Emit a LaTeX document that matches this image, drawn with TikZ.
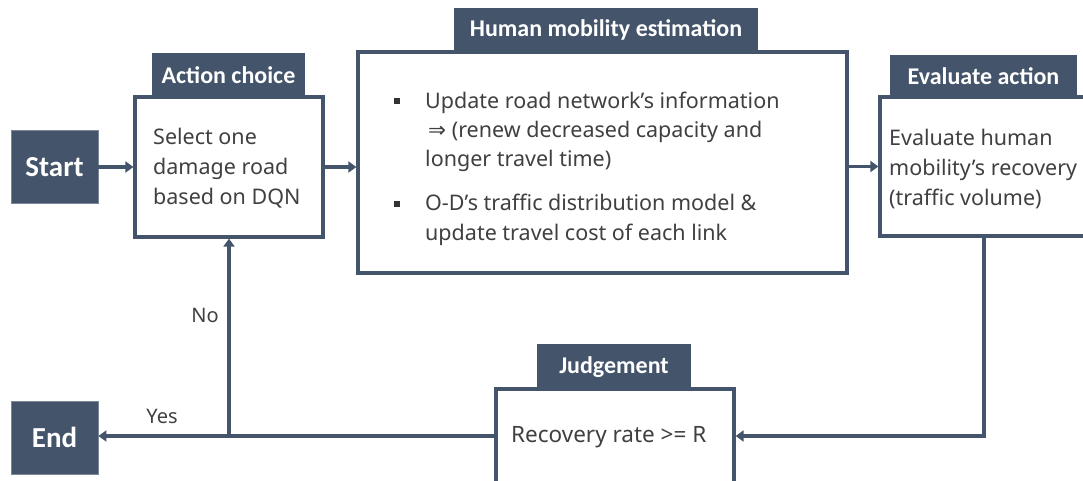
\documentclass[tikz,border=0pt]{standalone}
\usepackage{fontspec}
\setmainfont{Noto Sans}
\newfontfamily\headfont{Carlito}
\newfontfamily\symfont{DejaVu Sans}
\usetikzlibrary{arrows.meta}
\definecolor{slate}{RGB}{68,84,106}
\definecolor{ink}{RGB}{64,64,64}
\begin{document}
\begin{tikzpicture}[x=1pt,y=-1pt,
  panel/.style={draw=slate, line width=3.3pt, fill=white, rectangle, inner sep=0pt},
  tab/.style={fill=slate, text=white, rectangle, inner sep=0pt,
    font=\headfont\bfseries\fontsize{24pt}{24pt}\selectfont},
  term/.style={fill=slate, draw=slate!70!white, line width=0.8pt, text=white, rectangle, inner sep=0pt,
    minimum width=87pt, minimum height=73pt,
    font=\headfont\bfseries\fontsize{29pt}{29pt}\selectfont},
  body/.style={text=ink, align=left, inner sep=0pt, anchor=west,
    font=\fontsize{21.5pt}{30pt}\selectfont},
  lbl/.style={text=ink, inner sep=0pt, font=\fontsize{20pt}{24pt}\selectfont},
  bullet/.style={fill=ink!80!black, rectangle, inner sep=0pt, minimum size=6.5pt},
  conn/.style={draw=slate, line width=3.3pt, -{Triangle[length=8pt,width=11pt]}}]
\useasboundingbox (0,0) rectangle (1083,481);

% header tabs (drawn first so the panel borders sit on their lower edge)
\node[tab, minimum width=153pt, minimum height=44pt] (acttab) at (228.5,75) {Action choice};
\node[tab, minimum width=304pt, minimum height=44pt] (hmtab) at (606,30) {Human mobility estimation};
\node[tab, minimum width=187pt, minimum height=42pt] (evtab) at (983.5,76) {Evaluate action};
\node[tab, minimum width=154pt, minimum height=46pt] (jtab) at (614,367) {Judgement};

% panels
\node[panel, minimum width=188pt, minimum height=140pt] (actbox) at (229,167) {};
\node[panel, minimum width=489pt, minimum height=221pt] (hmbox) at (602.5,162.5) {};
\node[panel, minimum width=220pt, minimum height=139pt] (evbox) at (990,166.5) {};
\node[panel, minimum width=238pt, minimum height=94pt] (jbox) at (615,436) {};

% start / end terminals
\node[term] (start) at (54.5,167) {Start};
\node[term] (end) at (54.5,437.5) {End};

% panel texts
\node[body] (acttxt) at (153,168) {Select one\\damage road\\based on DQN};
\node[body] (evtxt) at (889,169) {Evaluate human\\mobility’s recovery\\(traffic volume)};
\node[bullet] (b1) at (397,101) {};
\node[bullet] (b2) at (397,204) {};
\node[body, font=\fontsize{21.5pt}{29pt}\selectfont] (hm1) at (425,132)
  {Update road network’s information\\\hspace{3pt}{\symfont ⇒} (renew decreased capacity and\\longer travel time)};
\node[body] (hm2) at (425,220) {O-D’s traffic distribution model \&\\update travel cost of each link};
\node[body, font=\fontsize{22.5pt}{30pt}\selectfont] (jtxt) at (511,437) {Recovery rate >= R};

% flow
\draw[conn] (start) -- (actbox);
\draw[conn] (actbox.east) -- (actbox.east -| hmbox.west);
\draw[conn] (hmbox.east |- evbox.west) -- (evbox.west);
\draw[conn] ([xshift=-6pt]evbox.south) |- (jbox.east);
\draw[conn] (jbox.west) -- (jbox.west -| end.east);
\draw[conn] (actbox.south |- jbox.west) -- (actbox.south);

% branch labels
\node[lbl] (yes) at (162,416) {Yes};
\node[lbl] (no) at (205,315) {No};
\end{tikzpicture}
\end{document}
